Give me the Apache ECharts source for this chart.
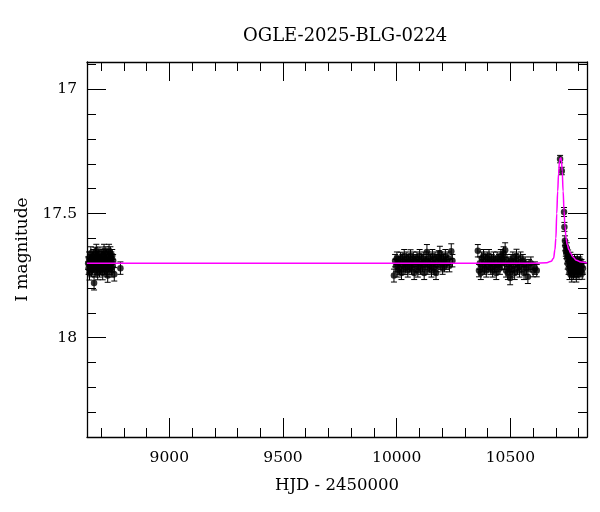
<!DOCTYPE html>
<html>
<head>
<meta charset="utf-8">
<script src="https://cdn.jsdelivr.net/npm/echarts@6/dist/echarts.min.js"></script>
<style>html,body{margin:0;padding:0;background:#fff}#c{width:600px;height:512px}</style>
</head>
<body>
<div id="c"></div>
<script>
// ---- data: [HJD-2450000, I mag, error] ----
const season1 = [[8643,17.70,0.025],[8645,17.72,0.025],[8647,17.68,0.025],[8649,17.74,0.028],[8651,17.69,0.024],[8653,17.71,0.025],[8655,17.66,0.026],[8657,17.73,0.025],[8659,17.70,0.024],[8661,17.68,0.025],[8663,17.72,0.027],[8665,17.67,0.025],[8667,17.71,0.025],[8669,17.78,0.028],[8671,17.69,0.025],[8673,17.73,0.026],[8675,17.66,0.024],[8677,17.70,0.025],[8679,17.65,0.026],[8681,17.72,0.025],[8683,17.68,0.025],[8685,17.74,0.027],[8687,17.67,0.024],[8689,17.71,0.025],[8691,17.69,0.025],[8693,17.73,0.026],[8695,17.66,0.025],[8697,17.70,0.024],[8699,17.72,0.025],[8701,17.68,0.026],[8703,17.71,0.025],[8705,17.69,0.025],[8707,17.74,0.027],[8709,17.67,0.025],[8711,17.70,0.024],[8713,17.65,0.026],[8715,17.72,0.025],[8717,17.68,0.025],[8719,17.71,0.025],[8721,17.66,0.026],[8723,17.73,0.025],[8725,17.69,0.025],[8727,17.70,0.024],[8729,17.75,0.027],[8731,17.67,0.025],[8733,17.71,0.025],[8735,17.65,0.026],[8737,17.69,0.025],[8739,17.72,0.025],[8741,17.66,0.026],[8743,17.70,0.025],[8745,17.68,0.025],[8747,17.73,0.026],[8749,17.67,0.025],[8751,17.71,0.025],[8753,17.69,0.025],[8758,17.745,0.027],[8785,17.72,0.025]];
const season2 = [[9988,17.75,0.026],[9993,17.69,0.025],[9997,17.71,0.025],[10001,17.68,0.025],[10005,17.73,0.026],[10009,17.70,0.025],[10013,17.72,0.025],[10017,17.68,0.024],[10021,17.74,0.026],[10025,17.69,0.025],[10029,17.71,0.025],[10033,17.67,0.025],[10037,17.72,0.026],[10041,17.70,0.025],[10045,17.68,0.025],[10049,17.73,0.026],[10053,17.69,0.025],[10057,17.71,0.025],[10061,17.67,0.024],[10065,17.72,0.025],[10069,17.70,0.025],[10073,17.68,0.025],[10077,17.74,0.026],[10081,17.69,0.025],[10085,17.71,0.025],[10089,17.68,0.025],[10093,17.73,0.026],[10097,17.70,0.025],[10101,17.67,0.025],[10105,17.72,0.025],[10109,17.69,0.025],[10113,17.71,0.025],[10117,17.68,0.025],[10121,17.74,0.026],[10125,17.70,0.025],[10129,17.69,0.025],[10133,17.655,0.03],[10137,17.72,0.025],[10141,17.68,0.025],[10145,17.71,0.025],[10149,17.69,0.025],[10153,17.73,0.026],[10157,17.67,0.025],[10161,17.70,0.025],[10165,17.72,0.025],[10169,17.68,0.025],[10173,17.74,0.026],[10177,17.69,0.025],[10181,17.71,0.025],[10185,17.675,0.025],[10190,17.66,0.028],[10194,17.70,0.025],[10198,17.68,0.025],[10202,17.72,0.025],[10206,17.69,0.025],[10210,17.71,0.025],[10214,17.67,0.025],[10220,17.70,0.025],[10226,17.68,0.025],[10232,17.71,0.025],[10240,17.652,0.03],[10245,17.69,0.025]];
const season3 = [[10357,17.65,0.025],[10362,17.73,0.025],[10366,17.70,0.025],[10370,17.74,0.026],[10374,17.68,0.025],[10378,17.71,0.025],[10382,17.67,0.025],[10386,17.72,0.025],[10390,17.69,0.025],[10394,17.73,0.026],[10398,17.68,0.025],[10402,17.71,0.025],[10406,17.67,0.025],[10410,17.70,0.025],[10414,17.72,0.025],[10418,17.69,0.025],[10422,17.73,0.026],[10426,17.68,0.025],[10430,17.71,0.025],[10434,17.70,0.025],[10438,17.74,0.026],[10442,17.68,0.025],[10446,17.71,0.025],[10450,17.69,0.025],[10454,17.72,0.025],[10458,17.67,0.025],[10462,17.70,0.025],[10466,17.68,0.025],[10470,17.66,0.026],[10474,17.70,0.025],[10477,17.648,0.03],[10481,17.73,0.026],[10485,17.69,0.025],[10489,17.74,0.026],[10493,17.70,0.025],[10497,17.72,0.025],[10499,17.76,0.027],[10503,17.69,0.025],[10507,17.73,0.026],[10511,17.68,0.025],[10515,17.71,0.025],[10519,17.74,0.026],[10523,17.69,0.025],[10527,17.67,0.026],[10531,17.72,0.025],[10535,17.70,0.025],[10540,17.73,0.026],[10545,17.68,0.025],[10550,17.71,0.025],[10555,17.69,0.025],[10560,17.74,0.026],[10565,17.70,0.025],[10570,17.72,0.025],[10577,17.755,0.027],[10582,17.71,0.025],[10590,17.70,0.025],[10600,17.73,0.025],[10608,17.72,0.025],[10616,17.73,0.025]];
const season4 = [[10718.6,17.281,0.015],[10726,17.329,0.015],[10736,17.494,0.018],[10737.6,17.554,0.018],[10740,17.61,0.02],[10742,17.63,0.02],[10744,17.65,0.022],[10746,17.66,0.022],[10748,17.64,0.022],[10750,17.68,0.023],[10752,17.70,0.024],[10754,17.67,0.023],[10756,17.72,0.025],[10758,17.69,0.024],[10760,17.74,0.026],[10762,17.71,0.025],[10764,17.68,0.024],[10766,17.73,0.025],[10768,17.70,0.025],[10770,17.75,0.026],[10772,17.69,0.025],[10774,17.72,0.025],[10776,17.70,0.025],[10778,17.74,0.026],[10780,17.71,0.025],[10782,17.69,0.025],[10784,17.73,0.025],[10786,17.70,0.025],[10788,17.72,0.025],[10790,17.75,0.026],[10792,17.71,0.025],[10794,17.69,0.025],[10796,17.73,0.025],[10798,17.70,0.025],[10800,17.72,0.025],[10802,17.74,0.026],[10804,17.70,0.025],[10806,17.72,0.025],[10808,17.69,0.025],[10810,17.73,0.025],[10813,17.71,0.025],[10816,17.74,0.025],[10819,17.72,0.025]];

// model curve
const modelT   = [8638, 10600, 10660, 10680, 10690, 10696, 10700, 10704, 10708, 10712, 10716, 10719, 10722, 10725, 10728, 10732, 10736, 10740, 10745, 10750, 10757, 10765, 10775, 10790, 10810, 10837];
const modelMag = [17.70, 17.70, 17.698, 17.692, 17.68, 17.645, 17.60, 17.50, 17.41, 17.34, 17.29, 17.278, 17.276, 17.29, 17.33, 17.41, 17.49, 17.55, 17.60, 17.625, 17.645, 17.66, 17.675, 17.688, 17.695, 17.699];

// ticks
const xMajorTicks = [9000, 9500, 10000, 10500];
const xMinorTicks = [8700, 8800, 8900, 9000, 9100, 9200, 9300, 9400, 9500, 9600, 9700, 9800, 9900, 10000, 10100, 10200, 10300, 10400, 10500, 10600, 10700, 10800];
const yMajorTicks = [17, 17.5, 18];
const yMinorTicks = [16.9, 17.1, 17.2, 17.3, 17.4, 17.6, 17.7, 17.8, 17.9, 18.1, 18.2, 18.3];

const titleText = 'OGLE-2025-BLG-0224';
const xName = 'HJD - 2450000';
const yName = 'I magnitude';

// ---- chart ----
const X_MIN = 8638, X_MAX = 10837, Y_MIN = 16.89, Y_MAX = 18.40;
const FONT = 'DejaVu Serif';
const allObs = season1.concat(season2, season3, season4);
const modelData = modelT.map((t, i) => [t, modelMag[i]]);

const frame = {show: true, onZero: false, lineStyle: {color: '#000', width: 1.3}};
const tickStyle = {color: '#000', width: 1};
const plain = v => String(v);
function xAx(pos, major, withLine, withLabel) {
  return {
    type: 'value', position: pos, min: X_MIN, max: X_MAX,
    axisLine: withLine ? frame : {show: false},
    axisTick: {show: true, inside: true, length: major ? 19 : 9, customValues: major ? xMajorTicks : xMinorTicks, lineStyle: tickStyle},
    axisLabel: withLabel ? {show: true, customValues: xMajorTicks, formatter: plain, margin: 13, color: '#000', fontFamily: FONT, fontSize: 15.5} : {show: false},
    splitLine: {show: false},
    name: withLabel ? xName : '', nameLocation: 'middle', nameGap: 40,
    nameTextStyle: {color: '#000', fontFamily: FONT, fontSize: 16.5}
  };
}
function yAx(pos, major, withLine, withLabel) {
  return {
    type: 'value', position: pos, min: Y_MIN, max: Y_MAX, inverse: true,
    axisLine: withLine ? frame : {show: false},
    axisTick: {show: true, inside: true, length: major ? 19 : 9, customValues: major ? yMajorTicks : yMinorTicks, lineStyle: tickStyle},
    axisLabel: withLabel ? {show: true, customValues: yMajorTicks, formatter: plain, margin: 10, color: '#000', fontFamily: FONT, fontSize: 15.5} : {show: false},
    splitLine: {show: false},
    name: withLabel ? yName : '', nameLocation: 'middle', nameGap: 56, nameRotate: 90,
    nameTextStyle: {color: '#000', fontFamily: FONT, fontSize: 17}
  };
}

const chart = echarts.init(document.getElementById('c'), null, {renderer: 'canvas'});
chart.setOption({
  animation: false,
  backgroundColor: '#fff',
  title: {text: titleText, left: 238, top: 22, textStyle: {color: '#000', fontFamily: FONT, fontSize: 18, fontWeight: 'normal'}},
  grid: {left: 87, right: 13, top: 62, bottom: 75, containLabel: false},
  xAxis: [xAx('bottom', true, true, true), xAx('bottom', false, false, false), xAx('top', true, true, false), xAx('top', false, false, false)],
  yAxis: [yAx('left', true, true, true), yAx('left', false, false, false), yAx('right', true, true, false), yAx('right', false, false, false)],
  series: [
    {
      type: 'custom', xAxisIndex: 0, yAxisIndex: 0, data: allObs, z: 2,
      renderItem: function (params, api) {
        const t = api.value(0), m = api.value(1), e = api.value(2);
        const a = api.coord([t, m - e]);
        const b = api.coord([t, m + e]);
        const hw = 3;
        const st = {stroke: '#000', lineWidth: 1};
        return {type: 'group', children: [
          {type: 'line', shape: {x1: a[0], y1: a[1], x2: b[0], y2: b[1]}, style: st},
          {type: 'line', shape: {x1: a[0] - hw, y1: a[1], x2: a[0] + hw, y2: a[1]}, style: st},
          {type: 'line', shape: {x1: b[0] - hw, y1: b[1], x2: b[0] + hw, y2: b[1]}, style: st}
        ]};
      }
    },
    {
      type: 'scatter', xAxisIndex: 0, yAxisIndex: 0, z: 3,
      data: allObs.map(d => [d[0], d[1]]),
      symbol: 'circle', symbolSize: 6.5, itemStyle: {color: '#000'}
    },
    {
      type: 'line', xAxisIndex: 0, yAxisIndex: 0, z: 4,
      data: modelData, showSymbol: false, symbol: 'none',
      smooth: 0.4, smoothMonotone: 'x',
      lineStyle: {color: '#ff00ff', width: 1.5}
    }
  ]
});
</script>
</body>
</html>
